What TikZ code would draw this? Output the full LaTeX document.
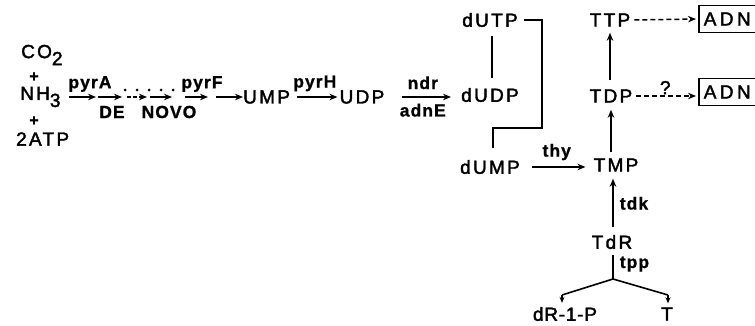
\documentclass[tikz,border=0pt]{standalone}
\usepackage{fontspec}
\setmainfont{Liberation Sans}
\newfontfamily\molfont{Liberation Sans}[LetterSpace=12,FakeBold=2]
\newfontfamily\tightfont{Liberation Sans}[LetterSpace=4,FakeBold=2]
\newfontfamily\boxfont{Liberation Sans}[LetterSpace=18,FakeBold=2]
\newfontfamily\enzfont{Liberation Sans}[LetterSpace=6,FakeBold=1]
\usetikzlibrary{arrows.meta}
\begin{document}
\begin{tikzpicture}[x=1pt,y=-1pt,
  mol/.style={font=\molfont\fontsize{19}{19}\selectfont, inner sep=0pt},
  enz/.style={font=\enzfont\bfseries\fontsize{17.5}{17.5}\selectfont, inner sep=0pt},
  plus/.style={font=\enzfont\bfseries\fontsize{16}{16}\selectfont, inner sep=0pt},
  dna/.style={font=\boxfont\fontsize{19}{19}\selectfont, draw, line width=1.5pt,
    minimum height=27pt, inner sep=0pt, inner xsep=5pt, anchor=west},
  tip/.style={-{Stealth[length=8pt,width=6.5pt]}},
  rxn/.style={line width=1.6pt, tip},
  link/.style={line width=1.6pt},
  maybe/.style={line width=1.5pt, dash pattern=on 5pt off 3pt, tip}
]
\useasboundingbox (0,0) rectangle (755,326);

% substrates of the de novo route
\node[mol, anchor=west] (co2) at (21,55) {CO\raisebox{-0.7ex}{2}};
\node[plus] (p1) at (34,77) {+};
\node[mol, anchor=west] (nh3) at (20,97) {NH\raisebox{-0.7ex}{3}};
\node[plus] (p2) at (34,121) {+};
\node[mol, anchor=west] (atp) at (16,139) {2ATP};

% de novo steps
\coordinate (s0) at (69,97);
\coordinate (s1) at (96,97);
\coordinate (s2) at (98,97);
\coordinate (s3) at (122,97);
\coordinate (s4) at (127,97);
\coordinate (s5) at (147,97);
\coordinate (s6) at (150,97);
\coordinate (s7) at (172,97);
\coordinate (s8) at (185,97);
\coordinate (s9) at (208,97);
\coordinate (s10) at (216,97);

\node[mol, anchor=west] (ump) at (243,97) {UMP};
\node[mol] (udp) at (362,97) {UDP};
\node[mol] (dudp) at (490,95) {dUDP};
\node[mol] (dutp) at (490,20) {dUTP};
\node[mol] (dump) at (490,167) {dUMP};
\node[mol] (tmp) at (616,165) {TMP};
\node[mol] (tdp) at (611,96) {TDP};
\node[mol] (ttp) at (610,20) {TTP};
\node[mol] (tdr) at (612,242) {TdR};
\node[mol, font=\tightfont\fontsize{19}{19}\selectfont] (dr1p) at (565,314) {dR-1-P};
\node[mol] (thym) at (667,314) {T};
\node[dna] (adn1) at (698,19) {ADN};
\node[dna] (adn2) at (698,92) {ADN};

\draw[rxn] (s0) -- (s1);
\draw[rxn] (s2) -- (s3);
\draw[line width=1.6pt, dash pattern=on 4pt off 2pt, tip] (s4) -- (s5);
\draw[rxn] (s6) -- (s7);
\draw[rxn] (s8) -- (s9);
\draw[rxn] (s10) -- (ump.west);
\foreach \x in {125,137,149,161,173} \fill (\x,90) circle (1.5pt);
\node[enz] (pyra) at (90,84) {pyrA};
\node[enz] (pyrf) at (202,84) {pyrF};
\node[enz] (de) at (112,112) {DE};
\node[enz] (novo) at (169,112) {NOVO};

% salvage and thymidylate branch
\draw[rxn, shorten <=7pt, shorten >=2pt] (ump.east) -- (udp.west) node[enz, midway, above=5pt] {pyrH};
\draw[rxn, shorten <=17pt, shorten >=10pt] (udp.east) -- (udp.east -| dudp.west)
  node[enz, midway, above=7pt] {ndr} node[enz, midway, below=6pt] {adnE};
\draw[link] ([xshift=2pt,yshift=-9pt]dutp.south) -- ([xshift=2pt,yshift=10pt]dudp.north);
\draw[link] ([xshift=6pt]dutp.east) -| (542,128) -| ([xshift=3pt,yshift=12pt]dump.north);
\draw[rxn, shorten <=12pt, shorten >=8pt] (dump.east) -- (dump.east -| tmp.west) node[enz, midway, above=6pt] {thy};
\draw[rxn, shorten <=6pt, shorten >=7pt] (tmp.north -| tdp) -- (tdp.south);
\draw[rxn, shorten <=9pt, shorten >=6pt] (tdp.north -| ttp) -- (ttp.south);
\draw[rxn, shorten <=8pt, shorten >=7pt] (tdr.north -| 613,0) -- (tmp.south -| 613,0) node[enz, midway, right=6pt] {tdk};
\coordinate (fork) at (613,279);
\coordinate (lfoot) at (562,295);
\coordinate (rfoot) at (668,295);
\draw[link, shorten <=6pt] (tdr.south -| fork) -- (fork) node[enz, midway, right=6pt] {tpp};
\draw[link, line join=round] (lfoot) -- (fork) -- (rfoot);
\draw[rxn, {Stealth[length=6pt,width=5pt]}-] ([yshift=4pt]dr1p.north -| lfoot) -- (lfoot);
\draw[rxn, {Stealth[length=6pt,width=5pt]}-] ([yshift=4pt]thym.north -| rfoot) -- (rfoot);

% incorporation into DNA
\draw[maybe, shorten <=4pt, shorten >=2pt] (ttp.east) -- (adn1.west);
\draw[maybe, shorten <=4pt, shorten >=2pt] (tdp.east) -- (tdp.east -| adn2.west) node[mol, midway, above=1pt] {?};
\end{tikzpicture}
\end{document}
